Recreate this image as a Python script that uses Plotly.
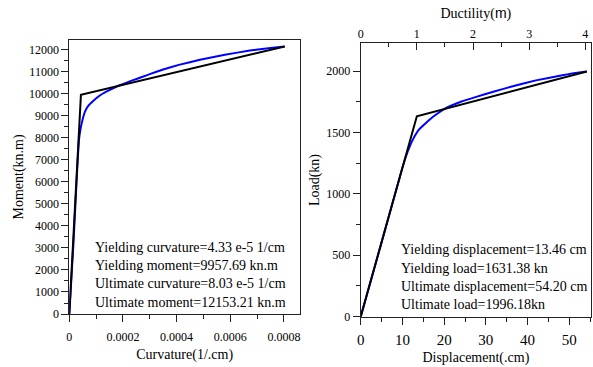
import plotly.graph_objects as go

# Moment-curvature (left panel)
curv_bilinear = [0, 4.33e-5, 8.03e-4]
moment_bilinear = [0, 9957.69, 12153.21]
curv_curve = [0, 1.5e-5, 3.0e-5, 3.6e-5, 4.1e-5, 4.6e-5, 5.2e-5, 5.85e-5, 7.0e-5, 8.9e-5, 1.05e-4, 1.27e-4,
              1.55e-4, 1.83e-4, 2.3e-4, 2.76e-4, 3.0e-4, 3.5e-4, 4.12e-4, 4.87e-4, 5.8e-4, 6.73e-4, 7.5e-4, 8.03e-4]
moment_curve = [0, 3100, 6700, 7900, 8350, 8650, 8950, 9200, 9450, 9680, 9850, 10030,
                10210, 10370, 10590, 10790, 10900, 11110, 11330, 11550, 11780, 11970, 12090, 12153.21]

# Load-displacement (right panel)
disp_bilinear = [0, 13.46, 54.20]
load_bilinear = [0, 1631.38, 1996.18]
disp_curve = [0, 5, 10.0, 10.7, 11.3, 11.9, 12.5, 13.1, 14.0, 15.1, 16.5, 17.9, 20.3, 24.0, 27.5,
              32, 36, 42, 48, 51, 54.2]
load_curve = [0, 605, 1215, 1290, 1348, 1398, 1442, 1480, 1525, 1561, 1604, 1642, 1697, 1750, 1788,
              1834, 1872, 1924, 1964, 1982, 1996.18]
yield_disp = 13.46

curv_ticks = [0, 0.0002, 0.0004, 0.0006, 0.0008]
curv_ticktext = ["0", "0.0002", "0.0004", "0.0006", "0.0008"]

left_text = ["Yielding curvature=4.33 e-5 1/cm", "Yielding moment=9957.69 kn.m",
             "Ultimate curvature=8.03 e-5 1/cm", "Ultimate moment=12153.21 kn.m"]
right_text = ["Yielding displacement=13.46 cm", "Yielding load=1631.38 kn",
              "Ultimate displacement=54.20 cm", "Ultimate load=1996.18kn"]

SERIF = "Liberation Serif"
W, H = 593, 367
BLUE = "#0000ff"

fig = go.Figure()
fig.add_trace(go.Scatter(x=curv_curve, y=moment_curve, mode="lines",
                         line=dict(color=BLUE, width=2, shape="spline", smoothing=0.3),
                         xaxis="x", yaxis="y", showlegend=False))
fig.add_trace(go.Scatter(x=curv_bilinear, y=moment_bilinear, mode="lines", line=dict(color="black", width=2),
                         xaxis="x", yaxis="y", showlegend=False))
fig.add_trace(go.Scatter(x=disp_curve, y=load_curve, mode="lines",
                         line=dict(color=BLUE, width=2, shape="spline", smoothing=0.3),
                         xaxis="x2", yaxis="y2", showlegend=False))
fig.add_trace(go.Scatter(x=disp_bilinear, y=load_bilinear, mode="lines", line=dict(color="black", width=2),
                         xaxis="x2", yaxis="y2", showlegend=False))
# invisible trace to activate top ductility axis
fig.add_trace(go.Scatter(x=[d / yield_disp for d in disp_bilinear], y=load_bilinear, mode="lines",
                         line=dict(width=0), opacity=0, hoverinfo="skip",
                         xaxis="x3", yaxis="y2", showlegend=False))

def tf(size):
    return dict(family=SERIF, size=size, color="black")

titlefont = tf(14)
axcommon = dict(showgrid=False, zeroline=False, showline=True, linecolor="#222", linewidth=1,
                ticks="outside", tickcolor="#222", ticklen=7, automargin=False)

x1 = (69.3 / W, 300 / W)
x2 = (360.7 / W, 591 / W)
y1 = (1 - 314 / H, 1 - 40 / H)
y2 = (1 - 316.7 / H, 1 - 43.3 / H)

fig.update_layout(
    width=W, height=H, margin=dict(l=0, r=0, t=0, b=0),
    plot_bgcolor="white", paper_bgcolor="white",
    font=dict(family=SERIF, color="black"),
    xaxis=dict(domain=x1, range=[0, 0.00086], tickvals=curv_ticks, ticktext=curv_ticktext,
               tickfont=tf(12), ticklabelstandoff=5,
               minor=dict(dtick=0.0001, ticklen=4, ticks="outside", tickcolor="#222"),
               mirror=True, anchor="y",
               title=dict(text="Curvature(1/.cm)", font=titlefont, standoff=5), **axcommon),
    yaxis=dict(domain=y1, range=[0, 12450], dtick=1000, tickformat="d", tickfont=tf(12),
               minor=dict(dtick=500, ticklen=4, ticks="outside", tickcolor="#222"),
               mirror=True, anchor="x",
               title=dict(text="Moment(kn.m)", font=titlefont, standoff=2), **axcommon),
    xaxis2=dict(domain=x2, range=[0, 55.2], dtick=10, tickfont=tf(15), ticklabelstandoff=2,
                minor=dict(dtick=5, ticklen=4, ticks="outside", tickcolor="#222"),
                anchor="y2",
                title=dict(text="Displacement(.cm)", font=titlefont, standoff=5), **axcommon),
    yaxis2=dict(domain=y2, range=[0, 2226], dtick=500, tickformat="d", tickfont=tf(12),
                minor=dict(dtick=250, ticklen=4, ticks="outside", tickcolor="#222"),
                mirror=True, anchor="x2",
                title=dict(text="Load(kn)", font=titlefont, standoff=3), **axcommon),
    xaxis3=dict(overlaying="x2", side="top", anchor="y2", range=[0, 55.2 / yield_disp], dtick=1,
                showgrid=False, zeroline=False, showline=True, linecolor="#222", linewidth=1,
                ticks="inside", tickcolor="#222", ticklen=7, tickfont=tf(12), automargin=False,
                minor=dict(dtick=0.5, ticklen=4, ticks="inside", tickcolor="#222"),
                title=dict(text="Ductility(<span style='font-family:Liberation Sans'>m</span>)",
                           font=titlefont, standoff=4)),
)

lx = 93 / W
for i, t in enumerate(left_text):
    fig.add_annotation(text=t, xref="paper", yref="paper", x=lx, y=1 - (247.5 + 18.2 * i) / H,
                       xanchor="left", yanchor="middle", showarrow=False,
                       font=dict(family=SERIF, size=14, color="black"))
rx = 398.5 / W
for i, t in enumerate(right_text):
    fig.add_annotation(text=t, xref="paper", yref="paper", x=rx, y=1 - (250 + 18.3 * i) / H,
                       xanchor="left", yanchor="middle", showarrow=False,
                       font=dict(family=SERIF, size=14, color="black"))

fig.write_html("out.html")
